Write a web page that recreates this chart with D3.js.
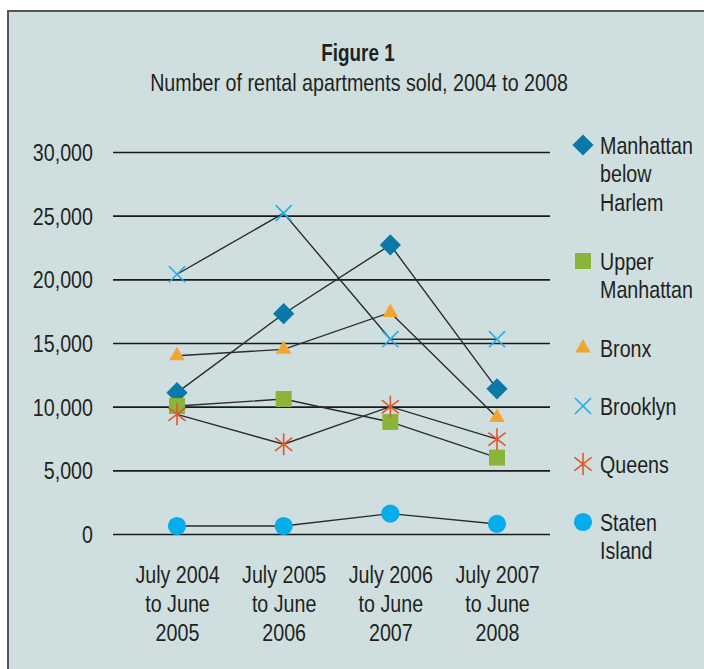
<!DOCTYPE html>
<html>
<head>
<meta charset="utf-8">
<script src="https://cdn.jsdelivr.net/npm/d3@7"></script>
<style>
  body { margin: 0; background: #fff; }
  svg { display: block; }
  text { font-family: "Liberation Sans Narrow", "Liberation Sans", Arial, sans-serif; fill: #231f20; }
</style>
</head>
<body>
<div id="chart"></div>
<script>
const categories = ["2004-05", "2005-06", "2006-07", "2007-08"];
const xLabels = [
  ["July 2004", "to June", "2005"],
  ["July 2005", "to June", "2006"],
  ["July 2006", "to June", "2007"],
  ["July 2007", "to June", "2008"]
];
const yTicks = [0, 5000, 10000, 15000, 20000, 25000, 30000];

const manhattanBelowHarlem = [11100, 17300, 22700, 11400];
const upperManhattan = [10050, 10600, 8800, 6000];
const bronx = [14000, 14500, 17400, 9150];
const brooklyn = [20400, 25200, 15300, 15300];
const queens = [9400, 7050, 10000, 7450];
const statenIsland = [630, 630, 1600, 790];

const seriesNames = [
  ["Manhattan", "below", "Harlem"],
  ["Upper", "Manhattan"],
  ["Bronx"],
  ["Brooklyn"],
  ["Queens"],
  ["Staten", "Island"]
];

const w = 704;
const h = 669;
const narrow = "scale(0.82,1)";  // no narrow face installed, squeeze the regular one

// asterisk: a times sign with a vertical bar through it
const symbolAsterisk = {
  draw(context, size) {
    const r = Math.sqrt(size) / 2;
    context.moveTo(0, -r);
    context.lineTo(0, r);
    context.moveTo(-0.78 * r, -0.6 * r);
    context.lineTo(0.78 * r, 0.6 * r);
    context.moveTo(-0.78 * r, 0.6 * r);
    context.lineTo(0.78 * r, -0.6 * r);
  }
};

const series = [
  { values: manhattanBelowHarlem, type: d3.symbolSquare, size: 225, rotate: 45, color: "#0a79a8", stroke: false },
  { values: upperManhattan, type: d3.symbolSquare, size: 256, rotate: 0, color: "#8cb43a", stroke: false },
  { values: bronx, type: d3.symbolTriangle, size: 105, rotate: 0, color: "#f2a630", stroke: false },
  { values: brooklyn, type: d3.symbolTimes, size: 170, rotate: 0, color: "#22aee6", stroke: true },
  { values: queens, type: symbolAsterisk, size: 484, rotate: 0, color: "#e0572b", stroke: true },
  { values: statenIsland, type: d3.symbolCircle, size: 260, rotate: 0, color: "#05aeeb", stroke: false }
];

const svg = d3.select("#chart")
              .append("svg")
              .attr("width", w)
              .attr("height", h);

// panel
svg.append("rect")
   .attr("x", 8)
   .attr("y", 11)
   .attr("width", w + 20)
   .attr("height", h + 20)
   .attr("fill", "#cfdfe0")
   .attr("stroke", "#555")
   .attr("stroke-width", 2);

svg.append("text")
   .attr("transform", `translate(358, 61) ${narrow}`)
   .attr("text-anchor", "middle")
   .style("font-size", "23px")
   .style("font-weight", "bold")
   .text("Figure 1");

svg.append("text")
   .attr("transform", `translate(359, 91) ${narrow}`)
   .attr("text-anchor", "middle")
   .style("font-size", "24px")
   .text("Number of rental apartments sold, 2004 to 2008");

const xScale = d3.scalePoint()
                 .domain(categories)
                 .range([177, 497]);
const yScale = d3.scaleLinear()
                 .domain([0, 30000])
                 .range([534, 152]);

const yAxis = d3.axisLeft(yScale)
                .tickValues(yTicks)
                .tickFormat(d3.format(","))
                .tickSize(-437)
                .tickPadding(20);

const gy = svg.append("g")
              .attr("id", "y-axis")
              .attr("transform", "translate(113, 0)")
              .call(yAxis);
gy.select(".domain").remove();
gy.selectAll(".tick line").attr("stroke", "#1a1a1a").attr("stroke-width", 1.6);
gy.selectAll(".tick text")
  .attr("x", null)
  .attr("dy", null)
  .attr("transform", `translate(-20, 8.5) ${narrow}`)
  .attr("fill", "#231f20")
  .style("font-size", "24px")
  .style("font-family", null);
gy.attr("font-family", null);

const xAxis = d3.axisBottom(xScale).tickSize(0).tickFormat("");
const gx = svg.append("g")
              .attr("id", "x-axis")
              .attr("transform", "translate(0, 583)")
              .call(xAxis);
gx.select(".domain").remove();
gx.attr("font-family", null);
gx.selectAll(".tick")
  .append("text")
  .attr("text-anchor", "middle")
  .attr("transform", narrow)
  .style("font-size", "24px")
  .selectAll("tspan")
  .data((d, i) => xLabels[i])
  .enter()
  .append("tspan")
  .attr("x", 0)
  .attr("y", (d, i) => i * 29)
  .text((d) => d);

const line = d3.line()
               .x((d, i) => xScale(categories[i]))
               .y((d) => yScale(d));

const symbolPath = (s) => d3.symbol().type(s.type).size(s.size)();

series.forEach((s) => {
  const g = svg.append("g");
  g.append("path")
   .datum(s.values)
   .attr("d", line)
   .attr("fill", "none")
   .attr("stroke", "#2b2b2b")
   .attr("stroke-width", 1.4);
  g.selectAll("path.mark")
   .data(s.values)
   .enter()
   .append("path")
   .attr("class", "mark")
   .attr("d", symbolPath(s))
   .attr("transform", (d, i) => `translate(${xScale(categories[i])},${yScale(d)}) rotate(${s.rotate})`)
   .attr("fill", s.stroke ? "none" : s.color)
   .attr("stroke", s.stroke ? s.color : "none")
   .attr("stroke-width", 1.6);
});

// legend
let ly = 145;
series.forEach((s, k) => {
  const item = svg.append("g").attr("transform", `translate(583, ${ly})`);
  item.append("path")
      .attr("d", symbolPath(s))
      .attr("transform", `rotate(${s.rotate})`)
      .attr("fill", s.stroke ? "none" : s.color)
      .attr("stroke", s.stroke ? s.color : "none")
      .attr("stroke-width", 1.6);
  item.append("text")
      .attr("transform", `translate(17, 0) ${narrow}`)
      .style("font-size", "24px")
      .selectAll("tspan")
      .data(seriesNames[k])
      .enter()
      .append("tspan")
      .attr("x", 0)
      .attr("y", (d, i) => 8.5 + i * 29)
      .text((d) => d);
  ly += (seriesNames[k].length + 1) * 29;
});
</script>
</body>
</html>
